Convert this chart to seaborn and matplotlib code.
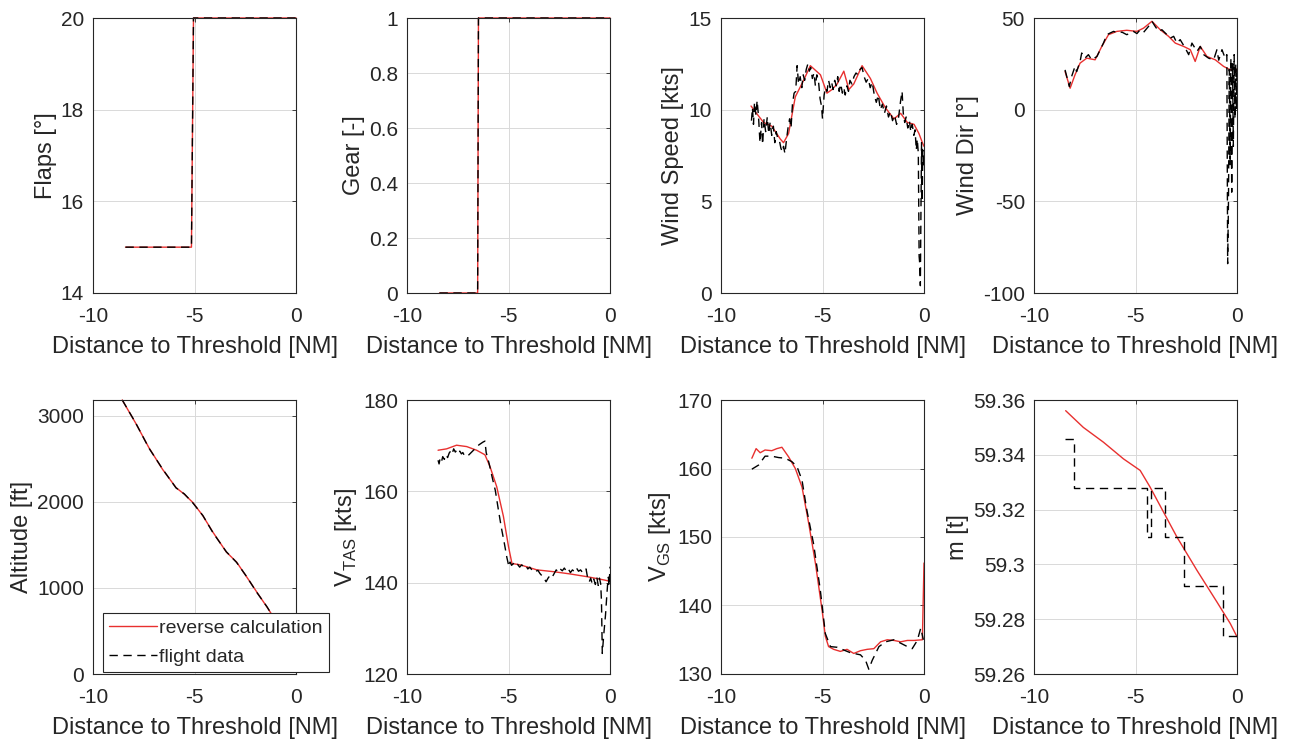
import numpy as np
import pandas as pd
import matplotlib
matplotlib.use("Agg")
import matplotlib.pyplot as plt
from matplotlib.ticker import FuncFormatter
import seaborn as sns

# ---------------- data ----------------
xlabel_text = "Distance to Threshold [NM]"
legend_labels = ["reverse calculation", "flight data"]

flaps_x = [-8.4, -5.15, -5.05, 0.0]
flaps_calc = [15, 15, 20, 20]
flaps_data = [15, 15, 20, 20]

gear_x = [-8.4, -6.52, -6.48, 0.0]
gear_calc = [0, 0, 1, 1]
gear_data = [0, 0, 1, 1]

ws_calc_x = [-8.52, -8.32, -7.9, -7.5, -7.08, -6.92, -6.67, -6.34, -5.93, -5.6, -5.1, -4.78, -4.53,
             -4.28, -3.95, -3.7, -3.46, -3.05, -2.64, -2.31, -1.9, -1.48, -1.15, -0.82, -0.49,
             -0.25, -0.08, 0.0]
ws_calc = [10.2, 9.9, 9.3, 9.1, 8.4, 8.2, 8.7, 10.7, 11.6, 12.4, 11.9, 10.9, 11.1,
           11.4, 12.1, 11.1, 11.4, 12.4, 11.7, 10.9, 10.1, 9.5, 9.8, 9.3, 9.2,
           8.7, 8.2, 8.0]
ws_data_x = [-8.50, -8.45, -8.40, -8.35, -8.28, -8.22, -8.15, -8.08, -8.00, -7.95, -7.88, -7.80,
             -7.72, -7.65, -7.58, -7.50, -7.42, -7.35, -7.28, -7.20, -7.12, -7.05, -6.98, -6.92,
             -6.85, -6.78, -6.70, -6.62, -6.55, -6.48, -6.40, -6.32, -6.25, -6.18, -6.10, -6.02,
             -5.95, -5.88, -5.80, -5.72, -5.65, -5.58, -5.50, -5.42, -5.35, -5.28, -5.20, -5.12,
             -5.05, -5.00, -4.92, -4.85, -4.78, -4.70, -4.62, -4.55, -4.48, -4.40, -4.32, -4.25,
             -4.18, -4.10, -4.02, -3.95, -3.88, -3.80, -3.72, -3.65, -3.55, -3.45, -3.35, -3.25,
             -3.15, -3.05, -2.95, -2.85, -2.75, -2.65, -2.55, -2.45, -2.35, -2.25, -2.15, -2.05,
             -1.95, -1.85, -1.75, -1.65, -1.55, -1.45, -1.35, -1.25, -1.15, -1.08, -1.02, -0.95,
             -0.88, -0.80, -0.72, -0.65, -0.58, -0.50, -0.44, -0.38, -0.33, -0.28, -0.24, -0.21,
             -0.18, -0.15, -0.12, -0.09, -0.06, -0.03, 0.00]
ws_data = [9.4, 10.1, 9.2, 10.4, 9.7, 10.5, 9.6, 8.2, 9.3, 8.1, 9.5, 8.8,
           9.6, 8.7, 9.3, 8.6, 9.1, 8.2, 8.8, 8.4, 8.3, 7.9, 7.7, 8.0,
           7.6, 8.3, 9.0, 9.5, 9.0, 10.3, 10.9, 11.0, 12.4, 11.4, 11.8, 11.2,
           11.9, 11.6, 12.2, 12.5, 12.1, 12.3, 11.7, 12.0, 11.3, 11.9, 11.6, 10.6,
           10.2, 9.5, 10.8, 11.2, 11.0, 11.6, 11.2, 11.5, 11.1, 11.6, 11.3, 11.8,
           11.0, 11.4, 10.9, 11.2, 10.8, 11.3, 11.0, 11.6, 11.4, 11.8, 12.0, 11.9,
           12.2, 12.3, 11.8, 11.5, 11.7, 11.2, 11.5, 10.8, 10.4, 10.8, 10.0, 10.3,
           9.8, 10.2, 9.6, 9.9, 9.4, 9.7, 9.2, 9.6, 10.5, 11.0, 9.8, 9.3,
           9.6, 9.0, 9.4, 8.8, 9.2, 8.6, 8.9, 7.8, 8.4, 7.6, 2.0, 1.6,
           0.4, 4.5, 8.2, 5.0, 7.8, 6.9, 7.5]

wd_calc_x = [-8.47, -8.22, -7.98, -7.73, -7.4, -6.99, -6.66, -6.33, -5.92, -5.43, -4.93, -4.6,
             -4.19, -3.78, -3.37, -3.04, -2.63, -2.3, -2.06, -1.81, -1.48, -1.07, -0.66, -0.33,
             -0.08, 0.0]
wd_calc = [20.8, 11.7, 19.0, 25.4, 28.1, 27.2, 34.5, 40.9, 42.7, 43.3, 42.7, 44.5,
           48.2, 43.6, 40.0, 36.3, 34.5, 32.7, 26.3, 34.5, 29.0, 27.2, 23.6, 21.7,
           22.7, 20.8]
wd_data_x = [-8.47, -8.26, -8.15, -7.98, -7.90, -7.73, -7.65, -7.49, -7.32, -7.16, -6.90, -6.58,
             -6.41, -6.25, -6.08, -5.84, -5.67, -5.43, -5.10, -4.93, -4.77, -4.60, -4.36, -4.19,
             -4.03, -3.86, -3.70, -3.45, -3.29, -3.12, -2.96, -2.80, -2.55, -2.38, -2.22, -1.97,
             -1.81, -1.64, -1.40, -1.15, -0.99, -0.90, -0.74, -0.58, -0.50, -0.46, -0.42, -0.38,
             -0.34, -0.30, -0.26, -0.22, -0.18, -0.14, -0.10, -0.06, -0.03, 0.0]
wd_data = [21.7, 12.6, 18.0, 23.6, 20.8, 26.3, 30.9, 28.1, 30.0, 27.2, 29.0, 36.3,
           40.9, 41.8, 42.7, 41.8, 42.3, 40.9, 42.7, 41.5, 43.6, 42.2, 45.4, 48.2,
           45.4, 42.7, 43.6, 40.9, 39.0, 40.0, 36.3, 38.2, 33.6, 30.0, 36.3, 31.8,
           34.5, 30.0, 28.1, 27.2, 32.7, 27.0, 32.7, 28.0, 30.0, -84.0, -50.0, 22.0,
           -30.0, 28.0, -45.0, 25.0, -20.0, 30.0, -5.0, 25.0, 0.0, 20.0]

alt_x = [-8.56, -7.90, -7.24, -6.57, -5.91, -5.50, -5.08, -4.59, -4.09, -3.43, -2.93, -2.43,
         -1.94, -1.44, -1.00, -0.50, 0.0]
alt_calc = [3180, 2912, 2624, 2374, 2163, 2086, 1990, 1837, 1645, 1415, 1300, 1127,
            954, 781, 620, 440, 270]
alt_data = [3180, 2915, 2620, 2378, 2160, 2090, 1985, 1840, 1640, 1418, 1296, 1130,
            950, 784, 618, 442, 268]

vtas_calc_x = [-8.47, -8.05, -7.56, -7.06, -6.57, -6.16, -5.91, -5.58, -5.25, -5.0, -4.83, -4.42,
               -3.6, -2.77, -1.95, -1.12, -0.3, 0.0]
vtas_calc = [169.0, 169.3, 170.1, 169.8, 169.0, 168.0, 165.4, 161.0, 154.5, 147.9, 144.2, 143.9,
             142.8, 142.4, 141.9, 141.3, 140.6, 140.3]
vtas_data_x = [-8.47, -8.42, -8.37, -8.30, -8.24, -8.16, -8.08, -8.00, -7.92, -7.85, -7.78, -7.70,
               -7.62, -7.55, -7.48, -7.40, -7.32, -7.25, -7.18, -7.10, -7.02, -6.95, -6.68, -6.55,
               -6.45, -6.25, -6.16, -6.10, -5.95, -5.80, -5.65, -5.50, -5.35, -5.20, -5.08, -4.98,
               -4.92, -4.85, -4.75, -4.65, -4.55, -4.45, -4.35, -4.25, -4.15, -4.05, -3.95, -3.85,
               -3.75, -3.65, -3.55, -3.45, -3.35, -3.25, -3.15, -3.05, -2.95, -2.85, -2.75, -2.65,
               -2.55, -2.45, -2.35, -2.25, -2.15, -2.05, -1.95, -1.85, -1.75, -1.65, -1.55, -1.45,
               -1.35, -1.25, -1.18, -1.10, -1.02, -0.95, -0.88, -0.80, -0.72, -0.65, -0.58, -0.52,
               -0.46, -0.42, -0.38, -0.30, -0.22, -0.16, -0.12, -0.08, -0.05, -0.02, 0.0]
vtas_data = [166.8, 166.0, 167.2, 166.5, 167.6, 167.0, 168.0, 167.4, 168.4, 168.8, 168.2, 169.3,
             168.6, 169.0, 168.4, 168.8, 168.2, 168.5, 167.9, 168.1, 167.8, 168.0, 169.2, 169.8,
             170.2, 170.8, 171.0, 168.5, 166.0, 163.0, 160.2, 156.0, 152.0, 148.5, 145.5, 143.5,
             144.5, 143.8, 144.2, 143.6, 144.0, 143.4, 143.9, 143.5, 143.8, 143.0, 143.4, 142.8,
             143.0, 142.5, 142.7, 142.0, 141.5, 141.0, 140.2, 141.0, 141.6, 141.2, 142.0, 142.8,
             142.3, 143.0, 142.6, 143.2, 142.5, 143.0, 142.2, 142.8, 142.4, 143.2, 142.5, 142.8,
             142.2, 142.6, 143.0, 141.0, 140.2, 141.0, 139.8, 140.8, 139.6, 141.2, 139.4, 141.0,
             139.8, 136.0, 124.5, 129.0, 133.0, 137.0, 139.5, 141.2, 139.2, 141.5, 143.5]

vgs_calc_x = [-8.48, -8.27, -8.07, -7.83, -7.5, -7.25, -7.0, -6.67, -6.34, -6.01, -5.68, -5.35,
              -5.02, -4.86, -4.7, -4.45, -4.12, -3.79, -3.46, -3.13, -2.8, -2.47, -2.14, -1.81,
              -1.48, -1.15, -0.82, -0.49, -0.08, 0.0]
vgs_calc = [161.5, 162.9, 162.3, 162.7, 162.6, 162.9, 163.1, 161.7, 160.0, 157.3, 152.0, 146.2,
            139.3, 135.5, 134.0, 133.6, 133.3, 133.6, 133.0, 133.4, 133.6, 133.7, 134.7, 135.0,
            134.9, 134.7, 134.9, 134.9, 135.0, 146.2]
vgs_data_x = [-8.48, -8.15, -7.83, -7.50, -7.17, -6.84, -6.51, -6.26, -6.01, -5.77, -5.44, -5.11,
              -4.86, -4.61, -4.28, -3.95, -3.62, -3.13, -2.88, -2.72, -2.55, -2.22, -1.89, -1.48,
              -1.15, -0.82, -0.58, -0.33, -0.16, -0.03]
vgs_data = [159.9, 160.5, 161.8, 161.8, 161.6, 161.5, 161.0, 160.3, 158.3, 153.9, 149.0, 142.3,
            135.9, 134.0, 133.9, 133.5, 133.1, 132.8, 132.0, 130.7, 132.0, 134.0, 134.7, 135.0,
            134.5, 134.0, 133.7, 134.9, 136.7, 135.0]

m_calc_x = [-8.44, -7.57, -6.58, -5.59, -4.77, -4.28, -3.62, -2.96, -1.97, -0.99, -0.33, 0.0]
m_calc = [59.3561, 59.3500, 59.3446, 59.3385, 59.3343, 59.3282, 59.3191, 59.3100, 59.2978,
          59.2863, 59.2784, 59.2736]
m_data_x = [-8.45, -8.01, -4.44, -4.23, -3.54, -2.63, -0.69, 0.0]
m_data = [59.3458, 59.3280, 59.3100, 59.3280, 59.3100, 59.2920, 59.2740, 59.2740]

panels = [
    ("Flaps [°]", flaps_x, flaps_calc, flaps_x, flaps_data, (14, 20), [14, 16, 18, 20], False),
    ("Gear [-]", gear_x, gear_calc, gear_x, gear_data, (0, 1), [0, 0.2, 0.4, 0.6, 0.8, 1], False),
    ("Wind Speed [kts]", ws_calc_x, ws_calc, ws_data_x, ws_data, (0, 15), [0, 5, 10, 15], False),
    ("Wind Dir [°]", wd_calc_x, wd_calc, wd_data_x, wd_data, (-100, 50), [-100, -50, 0, 50], False),
    ("Altitude [ft]", alt_x, alt_calc, alt_x, alt_data, (0, 3180), [0, 1000, 2000, 3000], False),
    (r"V$_{\mathregular{TAS}}$ [kts]", vtas_calc_x, vtas_calc, vtas_data_x, vtas_data, (120, 180),
     [120, 140, 160, 180], False),
    (r"V$_{\mathregular{GS}}$ [kts]", vgs_calc_x, vgs_calc, vgs_data_x, vgs_data, (130, 170),
     [130, 140, 150, 160, 170], False),
    ("m [t]", m_calc_x, m_calc, m_data_x, m_data, (59.26, 59.36),
     [59.26, 59.28, 59.30, 59.32, 59.34, 59.36], True),
]

# ---------------- style ----------------
sns.set_theme(style="white")
plt.rcParams["font.family"] = ["Liberation Sans", "DejaVu Sans"]
plt.rcParams["axes.unicode_minus"] = False
plt.rcParams["mathtext.fontset"] = "custom"
plt.rcParams["mathtext.rm"] = "Liberation Sans"

W, H = 1295, 742
fig = plt.figure(figsize=(W / 100, H / 100), dpi=100)
fig.patch.set_facecolor("white")

col_left = [93, 407, 721, 1034]
ax_w = 203
rows = [(18, 293), (400, 674)]

red = "#e8302f"
axes = []
for i, (ylab, xc, yc, xd, yd, ylim, yticks, steps) in enumerate(panels):
    r, c = divmod(i, 4)
    top, bot = rows[r]
    ax = fig.add_axes([col_left[c] / W, (H - bot) / H, ax_w / W, (bot - top) / H])
    sns.lineplot(x=xc, y=yc, ax=ax, color=red, linewidth=1.0, estimator=None, sort=False,
                 label=legend_labels[0])
    kw = dict(drawstyle="steps-post") if steps else {}
    sns.lineplot(x=xd, y=yd, ax=ax, color="black", linewidth=1.0, linestyle="--",
                 estimator=None, sort=False, label=legend_labels[1], **kw)
    lines = ax.get_lines()
    for ln in lines:
        ln.set_clip_on(False)
    for ln in lines[1:]:
        ln.set_dashes((6, 4))
    ax.set_xlim(-10, 0)
    ax.set_xticks([-10, -5, 0])
    ax.set_ylim(*ylim)
    ax.set_yticks(yticks)
    ax.yaxis.set_major_formatter(FuncFormatter(lambda v, p: f"{v:g}"))
    ax.xaxis.set_major_formatter(FuncFormatter(lambda v, p: f"{v:g}"))
    ax.grid(True, color="#d9d9d9", linewidth=0.7)
    ax.set_axisbelow(True)
    for s in ax.spines.values():
        s.set_color("#262626")
        s.set_linewidth(0.8)
        s.set_visible(True)
    ax.tick_params(direction="in", length=3, width=0.6, color="#262626", labelsize=15,
                   labelcolor="#262626", top=True, right=True)
    ax.tick_params(axis="x", pad=10)
    ax.tick_params(axis="y", pad=6.5)
    ax.set_xlabel(xlabel_text, fontsize=17, color="#262626", labelpad=7)
    ax.set_ylabel(ylab, fontsize=17, color="#262626", labelpad=3)
    leg = ax.get_legend()
    if leg is not None:
        leg.remove()
    axes.append(ax)

handles, labels = axes[4].get_legend_handles_labels()
leg = axes[4].legend(handles, labels, loc="lower left",
                     bbox_to_anchor=(103 / W, (H - 672) / H), bbox_transform=fig.transFigure,
                     fontsize=14, frameon=True, fancybox=False, framealpha=1,
                     edgecolor="#262626", borderpad=0.3, labelspacing=0.6,
                     handlelength=2.5, handletextpad=0.1, borderaxespad=0)
leg.get_frame().set_linewidth(0.8)
leg.set_zorder(5)

fig.savefig("out.png", dpi=100, facecolor="white")
